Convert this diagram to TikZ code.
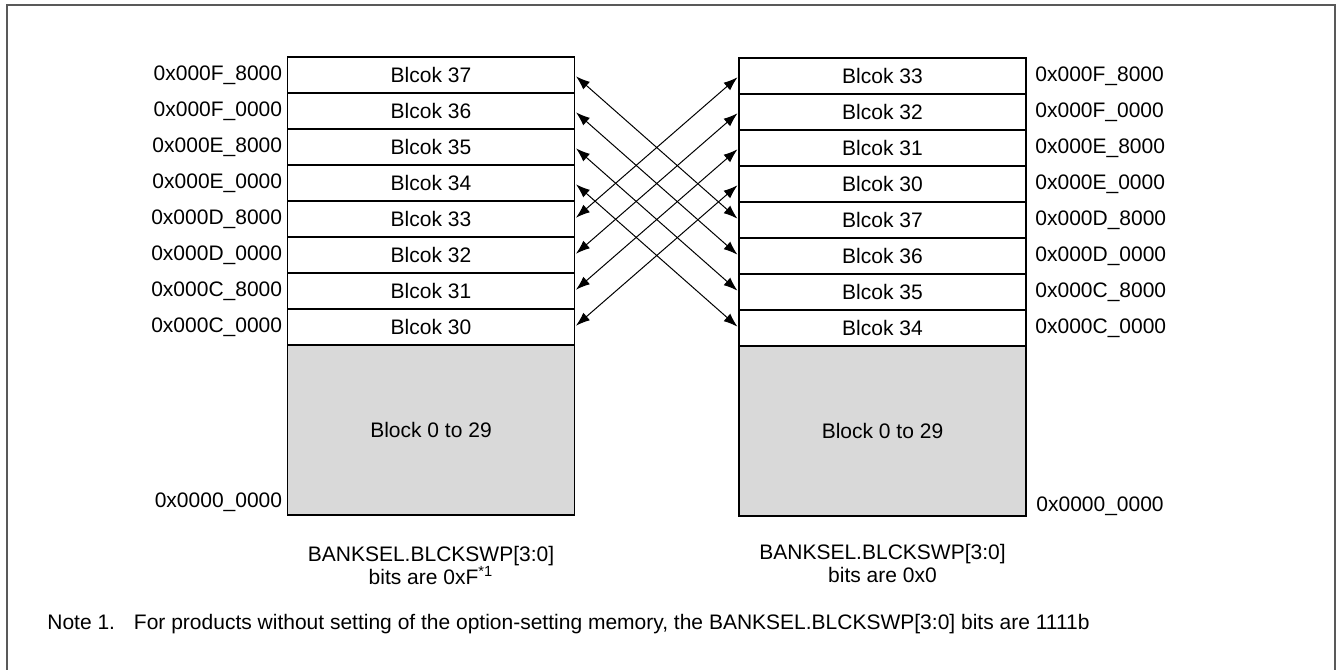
\documentclass[tikz,border=0pt]{standalone}
\usepackage{fontspec}
\setmainfont{Liberation Sans}
\usetikzlibrary{arrows.meta,positioning}

\begin{document}
\begin{tikzpicture}[x=0.5pt, y=-0.5pt, >={Latex[length=7pt,width=5pt]},
  every node/.style={font=\fontsize{10.5}{11.5}\selectfont},
  blk/.style={draw, line width=0.8pt, minimum width=143.5pt, minimum height=18pt, inner sep=0pt, outer sep=0pt},
  rest/.style={blk, fill=black!15, minimum height=85pt},
  addr/.style={inner sep=1.5pt},
  swap/.style={<->, line width=0.5pt, shorten <=1pt, shorten >=1pt}]

  \useasboundingbox (0,0) rectangle (1341,670);

  % outer frame (bottom edge lies below the page)
  \draw[line width=1pt, black!65] (6.5,680) -- (6.5,5) -- (1335,5) -- (1335,680);

  % Left stack: BLCKSWP = 0xF
  \foreach \n/\a [count=\i from 0] in {37/F\_8000, 36/F\_0000, 35/E\_8000, 34/E\_0000,
                                       33/D\_8000, 32/D\_0000, 31/C\_8000, 30/C\_0000} {
    \node[blk] (L\n) at (431, 75+36*\i) {Blcok \n};
    \node[addr, left=1pt of L\n] (aL\n) {0x000\a};
  }
  \node[rest, below=0pt of L30] (Lrest) {Block 0 to 29};
  \node[addr, anchor=base east] (zL) at ([shift={(-2,-7.5)}]Lrest.south west) {0x0000\_0000};
  \node[align=center, below=12pt of Lrest] (capL) {BANKSEL.BLCKSWP[3:0]\\bits are 0xF\textsuperscript{*1}};

  % Right stack: BLCKSWP = 0x0
  \foreach \n/\a [count=\i from 0] in {33/F\_8000, 32/F\_0000, 31/E\_8000, 30/E\_0000,
                                       37/D\_8000, 36/D\_0000, 35/C\_8000, 34/C\_0000} {
    \node[blk] (R\n) at (882.5, 76+36*\i) {Blcok \n};
    \node[addr, right=3pt of R\n] (aR\n) {0x000\a};
  }
  \node[rest, below=0pt of R34] (Rrest) {Block 0 to 29};
  \node[addr, anchor=base west] (zR) at ([shift={(7,-4.5)}]Rrest.south east) {0x0000\_0000};
  \node[align=center, below=10.5pt of Rrest] (capR) {BANKSEL.BLCKSWP[3:0]\\bits are 0x0};

  % swapped blocks
  \foreach \n in {30,...,37}
    \draw[swap] (L\n.east) -- (R\n.west);

  % footnote
  \node[addr, anchor=base west] (note) at (44,629) {Note 1.\hspace{0.9em}For products without setting of the option-setting memory, the BANKSEL.BLCKSWP[3:0] bits are 1111b};
\end{tikzpicture}
\end{document}
